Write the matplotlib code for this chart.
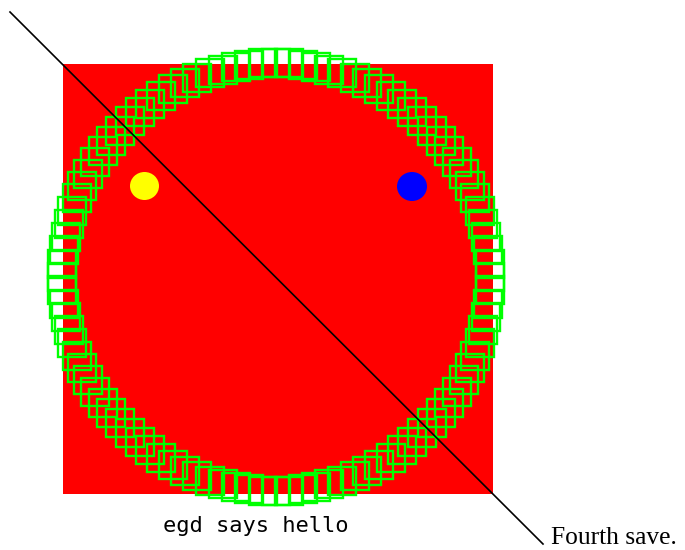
import numpy as np
import matplotlib
matplotlib.use("Agg")
from matplotlib import pyplot as plt
from matplotlib.patches import Rectangle, Ellipse

# picture geometry, in pixels of the 685x550 canvas
W, H = 685, 550
red_box = (63, 64, 430, 430)          # x, y, width, height
ring_center = (276, 277)
ring_radius = 214
ring_count = 100                      # brush stamps around the arc
brush_size = 28
dot_x = [144.5, 412]
dot_y = [186, 186.5]
dot_d = [29, 30]
dot_colors = ["#ffff00", "#0000ff"]
line_x = [10, 543]
line_y = [12, 544]
labels = ["egd says hello", "Fourth save."]
label_x = [163, 551]
label_y = [532, 544]

fig = plt.figure(figsize=(W / 100, H / 100), dpi=100)
ax = fig.add_axes([0, 0, 1, 1])
ax.set_xlim(0, W)
ax.set_ylim(H, 0)
ax.axis("off")

ax.add_patch(Rectangle(red_box[:2], red_box[2], red_box[3],
                       facecolor="#ff0000", edgecolor="none"))

# hollow square brush stamped around the arc
ang = np.deg2rad(np.arange(ring_count) * 360.0 / ring_count)
cx = ring_center[0] + ring_radius * np.cos(ang)
cy = ring_center[1] + ring_radius * np.sin(ang)
for x, y in zip(cx, cy):
    ax.add_patch(Rectangle((x - brush_size / 2, y - brush_size / 2),
                           brush_size, brush_size, fill=False,
                           edgecolor="#00ff00", linewidth=1.7))

for x, y, d, c in zip(dot_x, dot_y, dot_d, dot_colors):
    ax.add_patch(Ellipse((x, y), d, d - 1, facecolor=c, edgecolor="none"))

ax.plot(line_x, line_y, color="black", linewidth=1.2)

ax.text(label_x[0], label_y[0], labels[0], family="DejaVu Sans Mono",
        fontsize=15.8, ha="left", va="baseline", color="black")
ax.text(label_x[1], label_y[1], labels[1], family="Liberation Serif",
        fontsize=18.4, ha="left", va="baseline", color="black")

fig.savefig("out.png", dpi=100)
